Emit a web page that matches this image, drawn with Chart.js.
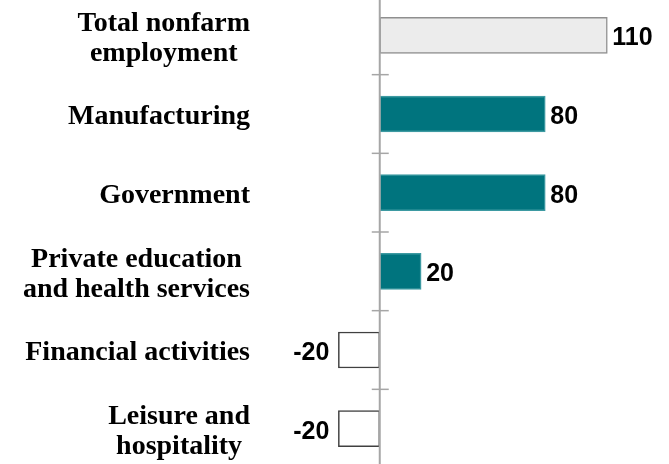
<!DOCTYPE html>
<html>
<head>
<meta charset="utf-8">
<script src="https://cdn.jsdelivr.net/npm/chart.js@4/dist/chart.umd.min.js"></script>
<style>
  html, body { margin: 0; padding: 0; background: #fff; overflow: hidden; }
  #wrap { position: relative; width: 669px; height: 464px; overflow: hidden; }
  #chart { position: absolute; left: 0; top: -8px; }
</style>
</head>
<body>
<div id="wrap"><canvas id="chart" width="669" height="480"></canvas></div>
<script>
// data
const categories = [
  ['Total nonfarm', 'employment'],
  ['Manufacturing'],
  ['Government'],
  ['Private education', 'and health services'],
  ['Financial activities'],
  ['Leisure and', 'hospitality']
];
const values = [110, 80, 80, 20, -20, -20];
const xMin = -40;
const xMax = 120;

// colores de cada barra
const fillColors = ['#ececec', '#00747e', '#00747e', '#00747e', '#ffffff', '#ffffff'];
const borderColors = ['#8f8f8f', '#3d9aa2', '#3d9aa2', '#3d9aa2', '#404040', '#404040'];

// eje en cero, marcas, etiquetas de valor y de categoria
const decorations = {
  id: 'decorations',
  afterDatasetsDraw(chart) {
    const ctx = chart.ctx;
    const xs = chart.scales.x;
    const ys = chart.scales.y;
    const area = chart.chartArea;
    const x0 = xs.getPixelForValue(0);

    ctx.save();
    ctx.strokeStyle = '#a6a6a6';
    ctx.lineWidth = 2;
    ctx.beginPath();
    ctx.moveTo(x0, area.top);
    ctx.lineTo(x0, area.bottom + 10);
    ctx.stroke();

    ctx.lineWidth = 1.5;
    for (let i = 0; i < categories.length - 1; i++) {
      const yb = (ys.getPixelForValue(i) + ys.getPixelForValue(i + 1)) / 2;
      ctx.beginPath();
      ctx.moveTo(x0 - 8, yb);
      ctx.lineTo(x0 + 9, yb);
      ctx.stroke();
    }

    // valores
    ctx.fillStyle = '#000';
    ctx.font = 'bold 25px "Liberation Sans", Arial, sans-serif';
    ctx.textBaseline = 'middle';
    values.forEach((v, i) => {
      const yc = ys.getPixelForValue(i) + 3;
      const xe = xs.getPixelForValue(v);
      if (v >= 0) {
        ctx.textAlign = 'left';
        ctx.fillText(String(v), xe + 5, yc);
      } else {
        ctx.textAlign = 'right';
        ctx.fillText(String(v), xe - 9, yc);
      }
    });

    // categorias
    ctx.font = 'bold 28px "Liberation Serif", "Times New Roman", serif';
    ctx.textAlign = 'center';
    const rightEdge = 250;
    const lineH = 30;
    categories.forEach((lines, i) => {
      const yc = ys.getPixelForValue(i) + 3;
      const maxW = Math.max(...lines.map(l => ctx.measureText(l).width));
      const cx = rightEdge - maxW / 2;
      const top = yc - (lines.length - 1) * lineH / 2;
      lines.forEach((l, j) => ctx.fillText(l, cx, top + j * lineH));
    });
    ctx.restore();
  }
};

new Chart(document.getElementById('chart'), {
  type: 'bar',
  data: {
    labels: categories,
    datasets: [{
      data: values,
      backgroundColor: fillColors,
      borderColor: borderColors,
      borderWidth: 1.5,
      borderSkipped: false,
      barThickness: 36
    }]
  },
  options: {
    indexAxis: 'y',
    responsive: false,
    animation: false,
    layout: { padding: { top: 4, bottom: 4, left: 297, right: 41 } },
    scales: {
      x: { type: 'linear', min: xMin, max: xMax, display: false },
      y: { type: 'category', display: false }
    },
    plugins: {
      legend: { display: false },
      tooltip: { enabled: false }
    }
  },
  plugins: [decorations]
});
</script>
</body>
</html>
